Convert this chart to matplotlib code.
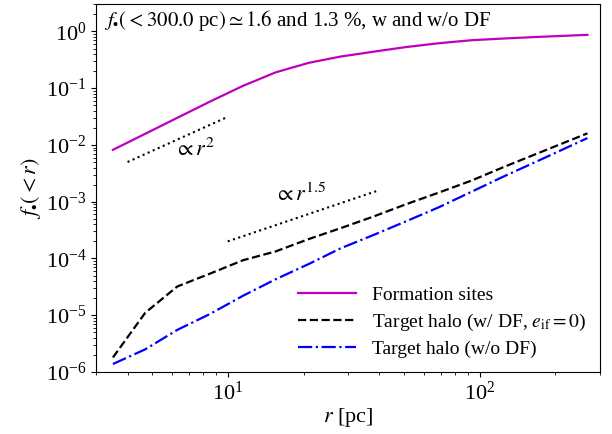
import numpy as np
import matplotlib
matplotlib.use("Agg")
import matplotlib.pyplot as plt
from matplotlib.ticker import NullFormatter

plt.rcParams['font.family'] = 'serif'
plt.rcParams['font.serif'] = ['Liberation Serif', 'DejaVu Serif']
plt.rcParams['mathtext.fontset'] = 'stix'

# radius bins [pc]
r = [3.5, 4.7, 6.3, 8.5, 11.5, 15.5, 21, 28, 38, 51, 69, 93, 125, 170, 268]

# cumulative fractions
f_form = [8.2e-3, 1.57e-2, 3.0e-2, 5.8e-2, 0.11, 0.19, 0.28, 0.36, 0.44, 0.53,
          0.62, 0.70, 0.75, 0.80, 0.87]
f_df = [1.8e-6, 1.1e-5, 3.2e-5, 5.4e-5, 9.3e-5, 1.33e-4, 2.2e-4, 3.4e-4,
        5.5e-4, 9.0e-4, 1.45e-3, 2.36e-3, 4.1e-3, 7.1e-3, 1.6e-2]
f_nodf = [1.38e-6, 2.5e-6, 5.5e-6, 1.05e-5, 2.2e-5, 4.3e-5, 8.0e-5, 1.5e-4,
          2.6e-4, 4.5e-4, 8.0e-4, 1.5e-3, 2.8e-3, 5.2e-3, 1.32e-2]

# power-law guide lines
r_p2 = np.array([4.0, 10.0])
r_p15 = np.array([10.0, 40.0])

fig = plt.figure(figsize=(6.12, 4.34), dpi=100)
ax = fig.add_axes([0.157, 0.143, 0.823, 0.847])

ax.plot(r, f_form, color='m', lw=1.6, label='Formation sites')
ax.plot(r, f_df, color='k', ls='--', lw=1.6, label=r'Target halo (w/ DF, $e_{\rm if}=0$)')
ax.plot(r, f_nodf, color='b', ls='-.', lw=1.6, label='Target halo (w/o DF)')

ax.plot(r_p2, 5e-3 * (r_p2 / 4.0) ** 2, color='k', ls=':', lw=1.5)
ax.plot(r_p15, 2e-4 * (r_p15 / 10.0) ** 1.5, color='k', ls=':', lw=1.5)
ax.text(7.4, 8.2e-3, r'$\propto r^2$', fontsize=16, ha='center', va='center')
ax.text(19.4, 1.3e-3, r'$\propto r^{1.5}$', fontsize=16, ha='center', va='center')

ax.text(0.016, 0.955,
        r'$f_{\bullet}(<300.0$ pc$)\simeq1.6$ and 1.3 %, w and w/o DF',
        transform=ax.transAxes, fontsize=15, va='center', ha='left')

ax.set_xscale('log')
ax.set_yscale('log')
ax.set_xlim(3, 300)
ax.set_ylim(1e-6, 3)
ax.xaxis.set_minor_formatter(NullFormatter())
ax.yaxis.set_minor_formatter(NullFormatter())
ax.set_xlabel(r'$r$ [pc]', fontsize=16, labelpad=1)
ax.set_ylabel(r'$f_{\bullet}(<r)$', fontsize=16, labelpad=2)
ax.tick_params(labelsize=16)
ax.legend(loc='lower right', fontsize=14, frameon=False, handlelength=3,
          borderaxespad=0.3, labelspacing=0.4)

fig.savefig('out.png', dpi=100)
